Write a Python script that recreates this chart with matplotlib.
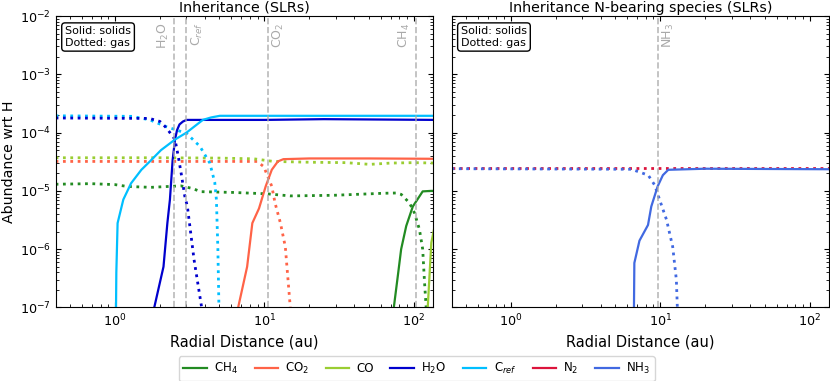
import matplotlib
matplotlib.use('Agg')
import matplotlib.pyplot as plt
from matplotlib.lines import Line2D

plt.rcParams['font.family'] = ['DejaVu Sans']

# --- data (r in au, abundance wrt H) ---
ch4_s_r = [73, 73.5, 78.2, 82.3, 89, 98.5, 114.7, 131, 140]
ch4_s = [1e-8, 1e-7, 3.5e-7, 1e-6, 2.5e-6, 5.4e-6, 9.8e-6, 1e-5, 1e-5]
ch4_g_r = [0.4, 0.69, 1.0, 1.21, 1.74, 2.75, 3.3, 3.74, 6.2, 10.4, 14.9, 29, 62.6, 76.6,
           82.4, 93.6, 101, 109, 114.7, 118, 121, 123]
ch4_g = [1.3e-5, 1.33e-5, 1.28e-5, 1.19e-5, 1.15e-5, 1.22e-5, 1.1e-5, 9.7e-6, 9.4e-6, 8.9e-6,
         8.2e-6, 8.4e-6, 9.1e-6, 9.2e-6, 8.7e-6, 6.2e-6, 4.2e-6, 2.2e-6, 1e-6, 2.7e-7, 1e-7, 1e-8]

co2_s_r = [6.5, 6.67, 7.66, 8.3, 9.2, 10.2, 11.2, 12.3, 13.4, 20, 50, 140]
co2_s = [1e-8, 1e-7, 5e-7, 2.8e-6, 5e-6, 1.2e-5, 2.3e-5, 3.2e-5, 3.5e-5, 3.6e-5, 3.6e-5, 3.55e-5]
co2_g_r = [0.4, 5, 8.95, 9.9, 10.7, 11.2, 11.8, 12.8, 13.8, 14.9, 15.2]
co2_g = [3.2e-5, 3.2e-5, 3.2e-5, 2.6e-5, 1.6e-5, 1.2e-5, 6.1e-6, 2.8e-6, 1.1e-6, 1e-7, 1e-8]

co_s_r = [123, 124, 131, 140]
co_s = [1e-8, 1e-7, 1.29e-6, 3e-6]
co_g_r = [0.4, 2, 5, 8.5, 11.5, 20, 35, 50.9, 70, 100, 140]
co_g = [3.7e-5, 3.7e-5, 3.65e-5, 3.55e-5, 3.2e-5, 3.1e-5, 3.05e-5, 2.85e-5, 3.0e-5, 3.05e-5, 3.0e-5]

h2o_s_r = [1.8, 1.83, 2.11, 2.24, 2.33, 2.43, 2.52, 2.6, 2.7, 2.85, 3.01, 10, 25, 140]
h2o_s = [1e-8, 1e-7, 5e-7, 2.8e-6, 7.1e-6, 3.4e-5, 7.6e-5, 1.1e-4, 1.38e-4, 1.55e-4, 1.65e-4,
         1.65e-4, 1.7e-4, 1.65e-4]
h2o_g_r = [0.4, 1.7, 2.0, 2.21, 2.52, 2.65, 2.79, 2.93, 3.05, 3.38, 3.8, 3.9]
h2o_g = [1.78e-4, 1.75e-4, 1.55e-4, 1.2e-4, 7.6e-5, 3.9e-5, 1.8e-5, 8.1e-6, 5.4e-6, 6.6e-7, 1e-7, 1e-8]

cref_s_r = [1.0, 1.015, 1.02, 1.04, 1.136, 1.28, 1.5, 1.71, 2.03, 2.52, 3.01, 3.87, 4.4, 5.03, 140]
cref_s = [1e-8, 1e-7, 4e-7, 2.8e-6, 7.1e-6, 1.35e-5, 2.3e-5, 3.2e-5, 5e-5, 7.6e-5, 1e-4,
          1.65e-4, 1.82e-4, 1.94e-4, 1.94e-4]
cref_g_r = [0.4, 1.3, 1.71, 2.21, 3.01, 3.7, 4.31, 4.65, 4.77, 4.88, 4.96, 5.0]
cref_g = [1.94e-4, 1.9e-4, 1.65e-4, 1.26e-4, 9.7e-5, 5.8e-5, 3e-5, 1.4e-5, 7.1e-6, 1e-6, 1e-7, 1e-8]

n2_g_r = [0.4, 140]
n2_g = [2.43e-5, 2.43e-5]

nh3_s_r = [6.6, 6.66, 6.7, 7.25, 8.27, 8.7, 9.6, 10.4, 11.3, 20, 140]
nh3_s = [1e-8, 1e-7, 5.8e-7, 1.4e-6, 2.6e-6, 5.4e-6, 1.2e-5, 1.86e-5, 2.3e-5, 2.4e-5, 2.35e-5]
nh3_g_r = [0.4, 6.4, 8.3, 9.16, 9.9, 11.0, 12.1, 12.8, 13.0, 13.1]
nh3_g = [2.4e-5, 2.35e-5, 1.86e-5, 1.26e-5, 7e-6, 3.2e-6, 1.1e-6, 3e-7, 1e-7, 1e-8]

# snowlines (au)
snow_left = {'H$_2$O': 2.5, 'C$_{ref}$': 3.0, 'CO$_2$': 10.5, 'CH$_4$': 103}
snow_right = {'NH$_3$': 9.6}

colors = {'CH4': 'forestgreen', 'CO2': 'tomato', 'CO': 'yellowgreen', 'H2O': 'mediumblue',
          'Cref': 'deepskyblue', 'N2': 'crimson', 'NH3': 'royalblue'}
names = {'CH4': 'CH$_4$', 'CO2': 'CO$_2$', 'CO': 'CO', 'H2O': 'H$_2$O',
         'Cref': 'C$_{ref}$', 'N2': 'N$_2$', 'NH3': 'NH$_3$'}

fig = plt.figure(figsize=(8.3, 3.81), dpi=100)
ax1 = fig.add_axes([0.067, 0.193, 0.455, 0.765])
ax2 = fig.add_axes([0.544, 0.193, 0.455, 0.765])

lw = 1.6
ax1.plot(ch4_g_r, ch4_g, ':', color=colors['CH4'], lw=2)
ax1.plot(co2_g_r, co2_g, ':', color=colors['CO2'], lw=2)
ax1.plot(co_g_r, co_g, ':', color=colors['CO'], lw=2)
ax1.plot(cref_g_r, cref_g, ':', color=colors['Cref'], lw=2)
ax1.plot(h2o_g_r, h2o_g, ':', color=colors['H2O'], lw=2)
ax1.plot(ch4_s_r, ch4_s, '-', color=colors['CH4'], lw=lw)
ax1.plot(co2_s_r, co2_s, '-', color=colors['CO2'], lw=lw)
ax1.plot(co_s_r, co_s, '-', color=colors['CO'], lw=lw)
ax1.plot(h2o_s_r, h2o_s, '-', color=colors['H2O'], lw=lw)
ax1.plot(cref_s_r, cref_s, '-', color=colors['Cref'], lw=lw)

ax2.plot(n2_g_r, n2_g, ':', color=colors['N2'], lw=2)
ax2.plot(nh3_g_r, nh3_g, ':', color=colors['NH3'], lw=2)
ax2.plot(nh3_s_r, nh3_s, '-', color=colors['NH3'], lw=lw)

label_side = {'H$_2$O': -1, 'C$_{ref}$': 1, 'CO$_2$': 1, 'CH$_4$': -1, 'NH$_3$': 1}
for ax, snow in [(ax1, snow_left), (ax2, snow_right)]:
    for lab, r in snow.items():
        ax.axvline(r, color='darkgrey', ls='--', lw=1.2, alpha=0.8)
        side = label_side[lab]
        ax.text(r * (1.05 if side > 0 else 0.95), 0.0078, lab, rotation=90,
                ha='left' if side > 0 else 'right', va='top', color='darkgrey', fontsize=9)

for ax, title in [(ax1, 'Inheritance (SLRs)'), (ax2, 'Inheritance N-bearing species (SLRs)')]:
    ax.set_xscale('log')
    ax.set_yscale('log')
    ax.set_xlim(0.4, 135)
    ax.set_ylim(1e-7, 1e-2)
    ax.set_xlabel('Radial Distance (au)', fontsize=10.5, labelpad=4)
    ax.set_title(title, fontsize=10.3, pad=3)
    ax.tick_params(which='both', direction='in', top=True, right=True, labelsize=9.2)
    ax.text(0.025, 0.965, 'Solid: solids\nDotted: gas', transform=ax.transAxes, fontsize=8,
            va='top', ha='left', bbox=dict(boxstyle='round,pad=0.3', fc='white', ec='black'))

ax1.set_ylabel('Abundance wrt H', fontsize=10.2)
ax1.yaxis.set_label_coords(-0.105, 0.5)
ax2.tick_params(labelleft=False)

handles = [Line2D([], [], color=colors[k], lw=lw) for k in colors]
fig.legend(handles, [names[k] for k in colors], loc='lower center', bbox_to_anchor=(0.502, 0.0),
           ncol=7, fontsize=8.5, columnspacing=1.4, handlelength=2.0, handletextpad=0.6,
           borderaxespad=0.0)

fig.savefig('out.png', dpi=100)
